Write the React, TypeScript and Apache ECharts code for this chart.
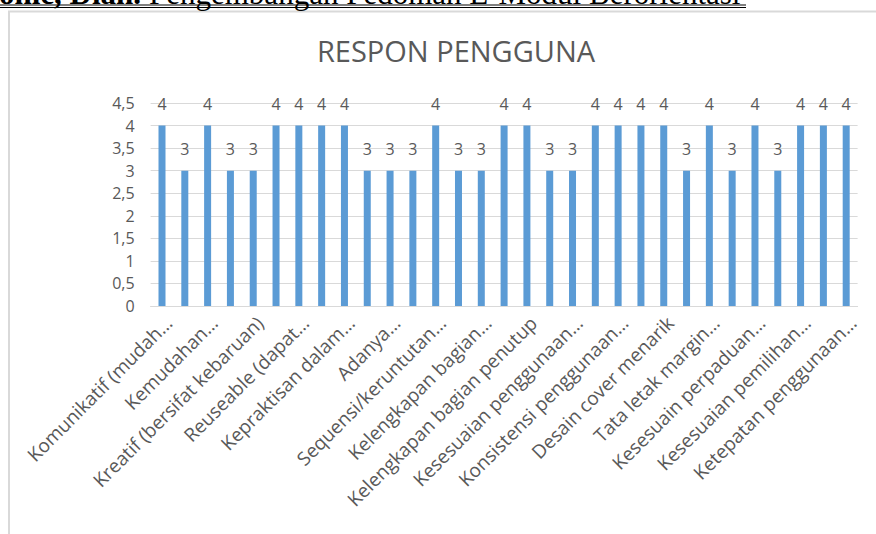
import React, { useEffect, useRef } from "react";
import * as echarts from "echarts";

const TITLE = "RESPON PENGGUNA";
const HEADER_BOLD = "onic, Dian.";
const HEADER_REST = "Pengembangan Pedoman E-Modul Berorientasi";

const categories: string[] = [
  "Komunikatif (mudah…",
  "Kriteria 2",
  "Kemudahan…",
  "Kriteria 4",
  "Kreatif (bersifat kebaruan)",
  "Kriteria 6",
  "Reuseable (dapat…",
  "Kriteria 8",
  "Kepraktisan dalam…",
  "Kriteria 10",
  "Adanya…",
  "Kriteria 12",
  "Sequensi/keruntutan…",
  "Kriteria 14",
  "Kelengkapan bagian…",
  "Kriteria 16",
  "Kelengkapan bagian penutup",
  "Kriteria 18",
  "Kesesuaian penggunaan…",
  "Kriteria 20",
  "Konsistensi penggunaan…",
  "Kriteria 22",
  "Desain cover menarik",
  "Kriteria 24",
  "Tata letak margin…",
  "Kriteria 26",
  "Kesesuain perpaduan…",
  "Kriteria 28",
  "Kesesuaian pemilihan…",
  "Kriteria 30",
  "Ketepatan penggunaan…",
];

const values: number[] = [
  4, 3, 4, 3, 3, 4, 4, 4, 4, 3, 3, 3, 4, 3, 3, 4, 4, 3, 3, 4, 4, 4, 4, 3, 4, 3, 4, 3, 4, 4, 4,
];

const Y_MIN = 0;
const Y_MAX = 4.5;
const Y_INTERVAL = 0.5;

export default function App() {
  const ref = useRef<HTMLDivElement>(null);

  useEffect(() => {
    if (!ref.current) return;
    const chart = echarts.init(ref.current, null, { renderer: "svg" });
    const gray = "#595959";
    chart.setOption({
      animation: false,
      backgroundColor: "#ffffff",
      title: {
        text: TITLE,
        left: 451,
        top: 31,
        textAlign: "center",
        textStyle: {
          fontFamily: "Open Sans",
          fontSize: 29,
          fontWeight: "normal",
          color: gray,
        },
      },
      grid: { left: 150.6, right: 18.4, top: 103, bottom: 228, containLabel: false },
      xAxis: {
        type: "category",
        data: categories,
        axisLine: { show: true, lineStyle: { color: "#d9d9d9", width: 1 } },
        axisTick: { show: false },
        axisLabel: {
          interval: 1,
          rotate: 45,
          margin: 7,
          verticalAlign: "top",
          fontFamily: "Open Sans",
          fontSize: 19,
          color: gray,
        },
      },
      yAxis: {
        type: "value",
        min: Y_MIN,
        max: Y_MAX,
        interval: Y_INTERVAL,
        axisLine: { show: false },
        axisTick: { show: false },
        splitLine: { lineStyle: { color: "#d9d9d9", width: 1 } },
        axisLabel: {
          margin: 16,
          fontFamily: "Open Sans",
          fontSize: 16,
          color: gray,
          formatter: (v: number) => String(v).replace(".", ","),
        },
      },
      series: [
        {
          type: "bar",
          data: values,
          barWidth: 7,
          itemStyle: { color: "#5b9bd5" },
          label: {
            show: true,
            position: "top",
            distance: 14,
            fontFamily: "Open Sans",
            fontSize: 16,
            color: gray,
          },
        },
      ],
      graphic: [
        {
          type: "rect",
          shape: { x: 9, y: 11.5, width: 900, height: 600 },
          style: { fill: "none", stroke: "#d9d9d9", lineWidth: 2 },
          silent: true,
          z: -1,
        },
        {
          type: "text",
          x: -1,
          y: 9,
          style: {
            text: HEADER_BOLD,
            font: "bold 31px 'Liberation Serif'",
            fill: "#000",
            verticalAlign: "bottom",
            align: "left",
          },
        },
        {
          type: "text",
          x: 149,
          y: 9,
          style: {
            text: HEADER_REST,
            font: "31px 'Liberation Serif'",
            fill: "#000",
            verticalAlign: "bottom",
            align: "left",
          },
        },
        {
          type: "line",
          shape: { x1: 0, y1: 5, x2: 746, y2: 5 },
          style: { stroke: "#000", lineWidth: 1 },
        },
        {
          type: "line",
          shape: { x1: 0, y1: 7.5, x2: 746, y2: 7.5 },
          style: { stroke: "#000", lineWidth: 1 },
        },
      ],
    });
    return () => chart.dispose();
  }, []);

  return (
    <div
      ref={ref}
      style={{ position: "fixed", left: 0, top: 0, width: 876, height: 534, background: "#fff" }}
    />
  );
}
